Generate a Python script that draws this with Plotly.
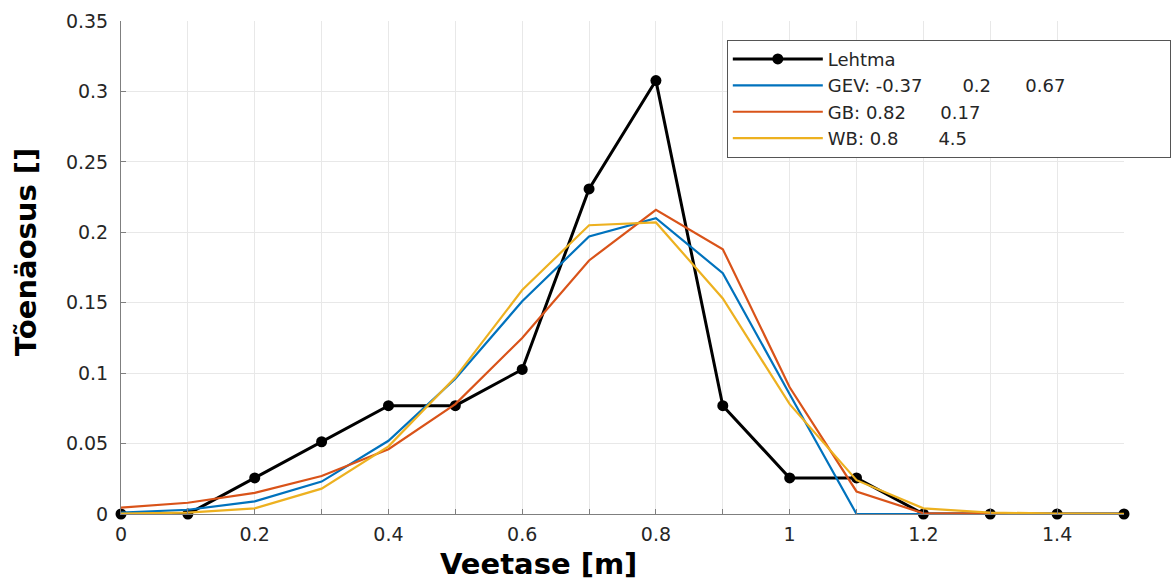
import plotly.graph_objects as go

x = [0, 0.1, 0.2, 0.3, 0.4, 0.5, 0.6, 0.7, 0.8, 0.9, 1.0, 1.1, 1.2, 1.3, 1.4, 1.5]
lehtma = [0, 0, 0.0256, 0.0513, 0.0769, 0.0769, 0.1026, 0.2308, 0.3077, 0.0769, 0.0256, 0.0256, 0, 0, 0, 0]
gev = [0.001, 0.003, 0.009, 0.023, 0.052, 0.096, 0.151, 0.197, 0.210, 0.171, 0.085, 0, 0, 0, 0, 0]
gb = [0.0045, 0.008, 0.015, 0.027, 0.046, 0.078, 0.125, 0.180, 0.216, 0.188, 0.090, 0.016, 0.0005, 0.0001, 0, 0]
wb = [0.0002, 0.001, 0.004, 0.018, 0.048, 0.097, 0.159, 0.205, 0.207, 0.153, 0.078, 0.024, 0.004, 0.001, 0.0003, 0.0001]

xticks = [0, 0.2, 0.4, 0.6, 0.8, 1, 1.2, 1.4]
xticklabels = ["0", "0.2", "0.4", "0.6", "0.8", "1", "1.2", "1.4"]
yticks = [0, 0.05, 0.1, 0.15, 0.2, 0.25, 0.3, 0.35]
yticklabels = ["0", "0.05", "0.1", "0.15", "0.2", "0.25", "0.3", "0.35"]

nb = "\u00a0"
names = ["Lehtma" + nb * 47,
         "GEV: -0.37" + nb * 6 + " 0.2" + nb * 5 + " 0.67",
         "GB: 0.82" + nb * 5 + " 0.17",
         "WB: 0.8" + nb * 6 + " 4.5"]

fig = go.Figure()
fig.add_trace(go.Scatter(x=x, y=lehtma, mode="lines+markers", name=names[0],
                         line=dict(color="black", width=3), marker=dict(color="black", size=11),
                         cliponaxis=False))
fig.add_trace(go.Scatter(x=x, y=gev, mode="lines", name=names[1],
                         line=dict(color="#0072BD", width=2.2), cliponaxis=False))
fig.add_trace(go.Scatter(x=x, y=gb, mode="lines", name=names[2],
                         line=dict(color="#D95319", width=2.2), cliponaxis=False))
fig.add_trace(go.Scatter(x=x, y=wb, mode="lines", name=names[3],
                         line=dict(color="#EDB120", width=2.2), cliponaxis=False))

axis_common = dict(showline=True, linecolor="#7f7f7f", linewidth=1, gridcolor="#e8e8e8",
                   ticks="inside", ticklen=5, tickcolor="#7f7f7f", zeroline=False,
                   tickfont=dict(family="DejaVu Sans", size=19, color="#262626"))

fig.update_layout(
    width=1171, height=581,
    margin=dict(l=121, r=47, t=21, b=67, autoexpand=False),
    plot_bgcolor="white", paper_bgcolor="white",
    font=dict(family="DejaVu Sans", color="#262626"),
    xaxis=dict(range=[0, 1.5], tickvals=xticks, ticktext=xticklabels,
               ticklabelstandoff=3,
               minor=dict(dtick=0.1, tick0=0, showgrid=True, gridcolor="#e8e8e8",
                          ticks="inside", ticklen=5, tickcolor="#7f7f7f"),
               **axis_common),
    yaxis=dict(range=[0, 0.35], tickvals=yticks, ticktext=yticklabels,
               ticklabelstandoff=8,
               **axis_common),
    legend=dict(x=0.604, y=0.962, xanchor="left", yanchor="top",
                bgcolor="white", bordercolor="#555555", borderwidth=1,
                font=dict(family="DejaVu Sans", size=18, color="#262626"),
                itemwidth=90, tracegroupgap=0),
    showlegend=True,
    annotations=[
        dict(text="<b>Veetase [m]</b>", xref="paper", yref="paper", x=0.4158, y=-0.1014,
             xanchor="center", yanchor="middle", showarrow=False,
             font=dict(family="DejaVu Sans", size=29, color="black")),
        dict(text="<b>Tõenäosus []</b>", xref="paper", yref="paper", x=-0.0947, y=0.531,
             xanchor="center", yanchor="middle", showarrow=False, textangle=-90,
             font=dict(family="DejaVu Sans", size=29, color="black")),
    ],
)

fig.write_html("out.html")
